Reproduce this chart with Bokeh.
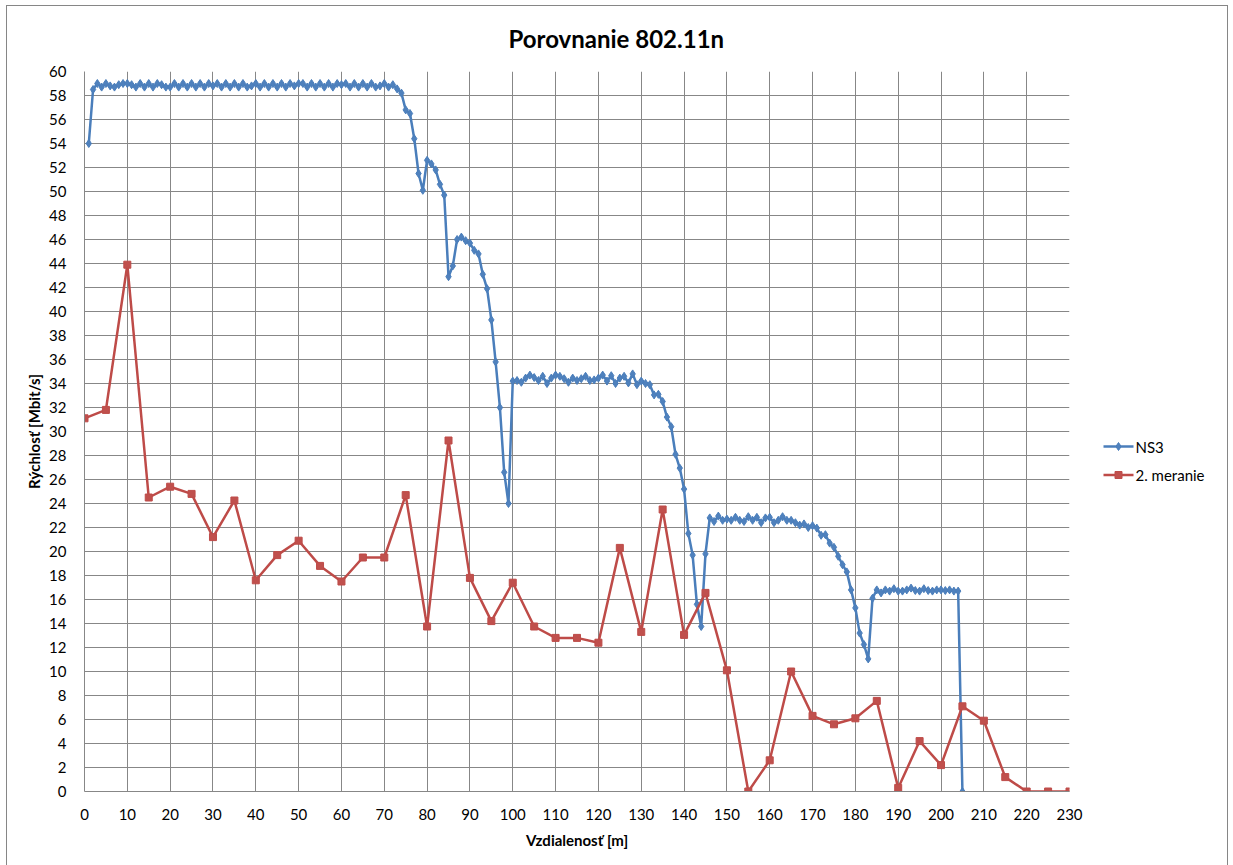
from bokeh.plotting import figure
from bokeh.layouts import row
from bokeh.models import ColumnDataSource, Range1d, SingleIntervalTicker, Title
from bokeh.core.properties import value
from bokeh.embed import file_html
from bokeh.resources import INLINE

# NS3 simulation: throughput for every metre from 1 m to 205 m
ns3_x = list(range(1, 206))
ns3_y = [
    54.0, 58.5, 59.0, 58.7, 59.0, 58.8, 58.7, 58.9, 59.0, 59.0,   # 1-10
    58.9, 58.7, 59.0, 58.7, 59.0, 58.7, 59.0, 58.9, 58.7, 58.7,   # 11-20
    59.0, 58.7, 59.0, 58.7, 59.0, 58.7, 59.0, 58.7, 59.0, 58.8,   # 21-30
    59.0, 58.7, 59.0, 58.7, 59.0, 58.7, 59.0, 58.7, 58.8, 59.0,   # 31-40
    58.7, 59.0, 58.7, 59.0, 58.7, 59.0, 58.7, 59.0, 58.8, 59.0,   # 41-50
    59.0, 58.7, 59.0, 58.7, 59.0, 58.7, 59.0, 58.7, 59.0, 58.9,   # 51-60
    59.0, 58.7, 59.0, 58.7, 59.0, 58.7, 59.0, 58.7, 58.8, 59.0,   # 61-70
    58.7, 58.9, 58.55, 58.2, 56.8, 56.5, 54.4, 51.5, 50.1, 52.6,  # 71-80
    52.3, 51.8, 50.6, 49.7, 42.9, 43.8, 46.0, 46.2, 45.9, 45.7,   # 81-90
    45.1, 44.8, 43.1, 41.9, 39.3, 35.8, 32.0, 26.6, 24.0, 34.2,   # 91-100
    34.25, 34.1, 34.45, 34.7, 34.5, 34.25, 34.6, 34.0, 34.45, 34.7,  # 101-110
    34.6, 34.4, 34.1, 34.45, 34.25, 34.4, 34.6, 34.25, 34.3, 34.45,  # 111-120
    34.7, 34.2, 34.65, 34.0, 34.45, 34.6, 34.05, 34.8, 33.9, 34.2,   # 121-130
    34.0, 33.9, 33.05, 33.1, 32.5, 31.2, 30.4, 28.1, 26.95, 25.2,    # 131-140
    21.5, 19.7, 15.6, 13.75, 19.8, 22.8, 22.5, 22.95, 22.6, 22.7,    # 141-150
    22.6, 22.85, 22.6, 22.5, 22.9, 22.6, 22.85, 22.4, 22.8, 22.85,   # 151-160
    22.4, 22.6, 22.9, 22.6, 22.6, 22.4, 22.2, 22.3, 22.0, 22.15,     # 161-170
    21.95, 21.35, 21.4, 20.7, 20.35, 19.6, 18.9, 18.3, 16.8, 15.3,   # 171-180
    13.2, 12.25, 11.05, 16.1, 16.8, 16.55, 16.8, 16.7, 16.9, 16.7,   # 181-190
    16.7, 16.8, 16.95, 16.75, 16.7, 16.9, 16.75, 16.7, 16.8, 16.8,   # 191-200
    16.75, 16.8, 16.7, 16.7, 0.0,                                    # 201-205
]

# Second field measurement, every 5 m
meas_x = list(range(0, 235, 5))
meas_y = [
    31.1, 31.8, 43.9, 24.5, 25.4, 24.8, 21.2, 24.25, 17.6, 19.7,
    20.9, 18.8, 17.5, 19.5, 19.5, 24.7, 13.75, 29.25, 17.8, 14.2,
    17.4, 13.75, 12.8, 12.8, 12.4, 20.3, 13.3, 23.5, 13.05, 16.55,
    10.1, 0.0, 2.6, 10.0, 6.3, 5.6, 6.1, 7.55, 0.3, 4.2,
    2.2, 7.1, 5.9, 1.2, 0.0, 0.0, 0.0,
]

series_names = ["NS3", "2. meranie"]

FONT = "Lato"
GRID = "#878787"
BLUE = "#4A7EBB"
BLUE_M = "#4F81BD"
RED = "#BE4B48"
RED_M = "#C0504D"

H = 859

# ---- main plot -------------------------------------------------------------
p = figure(width=1085, height=H, output_backend="svg", toolbar_location=None,
           x_range=Range1d(0, 230), y_range=Range1d(0, 60),
           min_border_left=77, min_border_right=23,
           min_border_top=65, min_border_bottom=74)
p.outline_line_color = None
p.background_fill_color = "white"
p.border_fill_color = "white"

title = Title(text="Porovnanie 802.11n", align="left", offset=424,
              vertical_align="top",
              text_font=FONT, text_font_size="24px", text_font_style="bold",
              text_color="#000000", standoff=33)
p.add_layout(title, "above")

xt = SingleIntervalTicker(interval=10)
yt = SingleIntervalTicker(interval=2)
p.xaxis.ticker = xt
p.yaxis.ticker = yt
p.xgrid.ticker = xt
p.ygrid.ticker = yt
for g in (p.xgrid, p.ygrid):
    g.grid_line_color = GRID
    g.grid_line_width = 1
    g.grid_line_alpha = 1.0

for ax in (p.xaxis, p.yaxis):
    ax.axis_line_color = GRID
    ax.axis_line_width = 1
    ax.major_tick_line_color = None
    ax.minor_tick_line_color = None
    ax.major_tick_out = 0
    ax.major_tick_in = 0
    ax.major_label_text_font = FONT
    ax.major_label_text_font_size = "15px"
    ax.major_label_text_color = "#000000"
    ax.axis_label_text_font = FONT
    ax.axis_label_text_font_size = "15px"
    ax.axis_label_text_font_style = "bold"
    ax.axis_label_text_color = "#000000"

p.xaxis.axis_label = "Vzdialenosť [m]"
p.yaxis.axis_label = "Rýchlosť [Mbit/s]"
p.xaxis.major_label_standoff = 13
p.yaxis.major_label_standoff = 14
p.xaxis.axis_label_standoff = 8
p.yaxis.axis_label_standoff = 3

ns3 = ColumnDataSource(dict(x=ns3_x, y=ns3_y))
meas = ColumnDataSource(dict(x=meas_x, y=meas_y))

p.line("x", "y", source=ns3, line_color=BLUE, line_width=2.5)
p.scatter("x", "y", source=ns3, marker="diamond", size=8,
          fill_color=BLUE_M, line_color=BLUE, line_width=1)
p.line("x", "y", source=meas, line_color=RED, line_width=2.5)
p.scatter("x", "y", source=meas, marker="square", size=7,
          fill_color=RED_M, line_color=RED, line_width=1)

# ---- legend panel ----------------------------------------------------------
# Its frame lines up with the main plot's frame (page rows 71..791), so the
# y range is expressed in page pixels, top to bottom.
LW = 135
lg = figure(width=LW, height=H, output_backend="svg", toolbar_location=None,
            x_range=Range1d(0, LW), y_range=Range1d(791, 71),
            x_axis_type=None, y_axis_type=None,
            min_border_left=0, min_border_right=0,
            min_border_top=0, min_border_bottom=0)
lg.grid.visible = False
lg.outline_line_color = None
lg.background_fill_color = "white"
lg.border_fill_color = "white"

key_y = [446, 474.5]
key_line = [BLUE, RED]
key_fill = [BLUE_M, RED_M]
key_marker = ["diamond", "square"]
key_size = [8, 7]
for name, ky, lc, fc, mk, sz in zip(series_names, key_y, key_line, key_fill,
                                    key_marker, key_size):
    lg.line([11, 41], [ky, ky], line_color=lc, line_width=2.5)
    lg.scatter([26], [ky], marker=mk, size=sz, fill_color=fc, line_color=lc,
               line_width=1)
    lg.text([43], [ky], text=[name], text_font=value(FONT),
            text_font_size="15px", text_baseline="middle", text_align="left",
            text_color="#000000")

layout = row(p, lg, spacing=0)
layout.margin = (5, 0, 0, 6)
layout.styles = {"border": "1px solid #868686"}

open("out.html", "w").write(file_html(layout, INLINE))
